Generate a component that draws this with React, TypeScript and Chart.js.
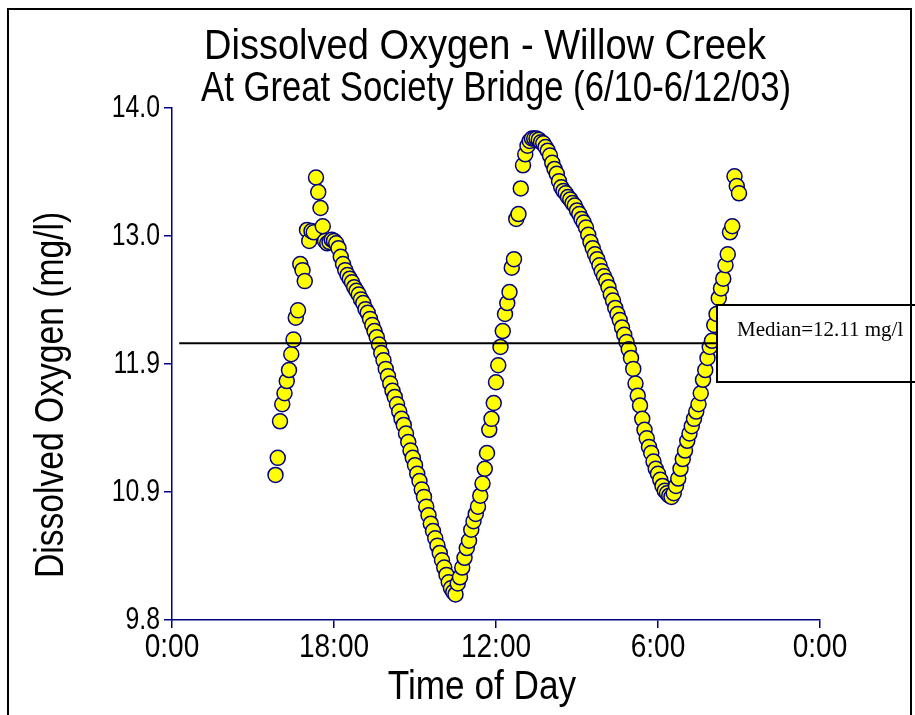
import React, { useEffect, useRef } from "react";
import { Chart, registerables } from "chart.js";

Chart.register(...registerables);

// Hours since 6/10/03 0:00 (logger readings every 15 minutes)
const hoursSinceStart = [
  11.5, 11.75, 12, 12.25, 12.5, 12.75, 13, 13.25, 13.5, 13.75,
  14, 14.25, 14.5, 14.75, 15, 15.25, 15.5, 15.75, 16, 16.25,
  16.5, 16.75, 17, 17.25, 17.5, 17.75, 18, 18.25, 18.5, 18.75,
  19, 19.25, 19.5, 19.75, 20, 20.25, 20.5, 20.75, 21, 21.25,
  21.5, 21.75, 22, 22.25, 22.5, 22.75, 23, 23.25, 23.5, 23.75,
  24, 24.25, 24.5, 24.75, 25, 25.25, 25.5, 25.75, 26, 26.25,
  26.5, 26.75, 27, 27.25, 27.5, 27.75, 28, 28.25, 28.5, 28.75,
  29, 29.25, 29.5, 29.75, 30, 30.25, 30.5, 30.75, 31, 31.25,
  31.5, 31.75, 32, 32.25, 32.5, 32.75, 33, 33.25, 33.5, 33.75,
  34, 34.25, 34.5, 34.75, 35, 35.25, 35.5, 35.75, 36, 36.25,
  36.5, 36.75, 37, 37.25, 37.5, 37.75, 38, 38.25, 38.5, 38.75,
  39, 39.25, 39.5, 39.75, 40, 40.25, 40.5, 40.75, 41, 41.25,
  41.5, 41.75, 42, 42.25, 42.5, 42.75, 43, 43.25, 43.5, 43.75,
  44, 44.25, 44.5, 44.75, 45, 45.25, 45.5, 45.75, 46, 46.25,
  46.5, 46.75, 47, 47.25, 47.5, 47.75, 48, 48.25, 48.5, 48.75,
  49, 49.25, 49.5, 49.75, 50, 50.25, 50.5, 50.75, 51, 51.25,
  51.5, 51.75, 52, 52.25, 52.5, 52.75, 53, 53.25, 53.5, 53.75,
  54, 54.25, 54.5, 54.75, 55, 55.25, 55.5, 55.75, 56, 56.25,
  56.5, 56.75, 57, 57.25, 57.5, 57.75, 58, 58.25, 58.5, 58.75,
  59, 59.25, 59.5, 59.75, 60, 60.25, 60.5, 60.75, 61, 61.25,
  61.5, 61.75, 62, 62.25, 62.5, 62.75, 63,
];

// Dissolved oxygen, mg/l
const dissolvedOxygen = [
  10.99, 11.13, 11.43, 11.57, 11.66, 11.76, 11.85, 11.98, 12.1, 12.28,
  12.34, 12.72, 12.67, 12.58, 13.0, 12.91, 12.99, 12.98, 13.43, 13.31,
  13.18, 13.03, 12.91, 12.89, 12.9, 12.92, 12.91, 12.89, 12.85, 12.78,
  12.72, 12.67, 12.63, 12.6, 12.57, 12.53, 12.5, 12.47, 12.43, 12.4,
  12.35, 12.32, 12.27, 12.22, 12.17, 12.12, 12.06, 11.99, 11.93, 11.86,
  11.8, 11.74, 11.68, 11.63, 11.57, 11.51, 11.45, 11.4, 11.33, 11.26,
  11.19, 11.13, 11.07, 11.0, 10.94, 10.87, 10.81, 10.73, 10.66, 10.59,
  10.53, 10.47, 10.41, 10.35, 10.29, 10.23, 10.17, 10.11, 10.06, 10.03,
  10.01, 10.1, 10.15, 10.23, 10.31, 10.39, 10.45, 10.54, 10.61, 10.67,
  10.73, 10.82, 10.92, 11.04, 11.17, 11.36, 11.45, 11.58, 11.75, 11.89,
  12.04, 12.17, 12.31, 12.4, 12.49, 12.69, 12.76, 13.09, 13.13, 13.34,
  13.53, 13.62, 13.69, 13.73, 13.75, 13.75, 13.75, 13.74, 13.72, 13.71,
  13.68, 13.65, 13.61, 13.55, 13.5, 13.46, 13.4, 13.35, 13.32, 13.3,
  13.27, 13.25, 13.22, 13.2, 13.16, 13.13, 13.09, 13.06, 13.02, 12.96,
  12.9, 12.85, 12.8, 12.76, 12.71, 12.66, 12.62, 12.58, 12.53, 12.47,
  12.42, 12.36, 12.31, 12.26, 12.2, 12.14, 12.08, 12.02, 11.95, 11.86,
  11.74, 11.64, 11.56, 11.45, 11.36, 11.29, 11.22, 11.17, 11.1, 11.04,
  11.0, 10.95, 10.9, 10.86, 10.84, 10.82, 10.81, 10.84, 10.9, 10.96,
  11.04, 11.12, 11.19, 11.27, 11.33, 11.39, 11.45, 11.51, 11.57, 11.66,
  11.77, 11.85, 11.95, 12.04, 12.09, 12.22, 12.31, 12.44, 12.52, 12.6,
  12.71, 12.8, 12.98, 13.03, 13.44, 13.36, 13.3,
];

const xTickHours = [0, 18, 36, 54, 72];
const xTickLabels = ["0:00", "18:00", "12:00", "6:00", "0:00"];
const yTickValues = [9.8, 10.85, 11.9, 12.95, 14.0];
const yTickLabels = ["9.8", "10.9", "11.9", "13.0", "14.0"];

const medianLineHours = [0.8, 72];
const medianLineLevel = [12.07, 12.07];
const medianLabel = "Median=12.11 mg/l";

const titleLines = [
  "Dissolved Oxygen - Willow Creek",
  "At Great Society Bridge (6/10-6/12/03)",
];
const xAxisTitle = "Time of Day";
const yAxisTitle = "Dissolved Oxygen (mg/l)";

const SANS = "'Liberation Sans', Arial, sans-serif";
const SERIF = "'Liberation Serif', 'Times New Roman', serif";
const NAVY = "#000080";

// horizontal condensing per font size (the original uses a narrow sans face)
const Y_TICK_SIZE = 31;
const X_TICK_SIZE = 33;
const condenseBySize: Record<number, number> = {
  [Y_TICK_SIZE]: 0.8,
  [X_TICK_SIZE]: 0.85,
};

function drawCondensed(
  ctx: CanvasRenderingContext2D,
  text: string,
  x: number,
  y: number,
  sx: number,
  rotate = 0
) {
  ctx.save();
  ctx.translate(x, y);
  if (rotate) ctx.rotate(rotate);
  ctx.scale(sx, 1);
  ctx.fillText(text, 0, 0);
  ctx.restore();
}

const decorPlugin = {
  id: "decor",
  beforeDraw(chart: any) {
    const ctx = chart.ctx as any;
    const proto = Object.getPrototypeOf(ctx);
    const orig = proto.fillText;
    ctx.fillText = function (t: string, x: number, y: number, mw?: number) {
      const m = /(\d+(?:\.\d+)?)px/.exec(this.font);
      const s = m ? condenseBySize[Math.round(+m[1])] : undefined;
      if (!s) return mw === undefined ? orig.call(this, t, x, y) : orig.call(this, t, x, y, mw);
      this.save();
      this.translate(x, y);
      this.scale(s, 1);
      orig.call(this, t, 0, 0);
      this.restore();
    };
  },
  afterDatasetsDraw(chart: any) {
    const ctx = chart.ctx as CanvasRenderingContext2D;
    ctx.save();
    // median annotation box
    ctx.fillStyle = "#ffffff";
    ctx.fillRect(717, 305, 230, 77);
    ctx.strokeStyle = "#000000";
    ctx.lineWidth = 2;
    ctx.strokeRect(717, 305, 230, 77);
    ctx.fillStyle = "#000000";
    ctx.font = `21px ${SERIF}`;
    ctx.textAlign = "left";
    ctx.textBaseline = "alphabetic";
    ctx.fillText(medianLabel, 737, 336);
    ctx.restore();
  },
  afterDraw(chart: any) {
    const ctx = chart.ctx as any;
    delete ctx.fillText;
    ctx.save();
    ctx.fillStyle = "#000000";
    // chart title (left aligned block, narrow face)
    ctx.font = `42px ${SANS}`;
    ctx.textAlign = "left";
    ctx.textBaseline = "alphabetic";
    const w1 = ctx.measureText(titleLines[0]).width;
    const w2 = ctx.measureText(titleLines[1]).width;
    drawCondensed(ctx, titleLines[0], 204, 59, 562 / w1);
    drawCondensed(ctx, titleLines[1], 201, 101, 590 / w2);
    // x axis title
    ctx.font = `40px ${SANS}`;
    ctx.textAlign = "center";
    ctx.textBaseline = "middle";
    drawCondensed(ctx, xAxisTitle, 482, 688, 0.88);
    // y axis title
    ctx.font = `41px ${SANS}`;
    drawCondensed(ctx, yAxisTitle, 52, 395, 0.82, -Math.PI / 2);
    // outer frame
    ctx.strokeStyle = "#000000";
    ctx.lineWidth = 2;
    ctx.strokeRect(8, 9, 903, 760);
    ctx.restore();
  },
};

export default function App() {
  const canvasRef = useRef<HTMLCanvasElement | null>(null);

  useEffect(() => {
    const canvas = canvasRef.current;
    if (!canvas) return;
    const points = hoursSinceStart.map((h, i) => ({ x: h, y: dissolvedOxygen[i] }));
    const median = medianLineHours.map((h, i) => ({ x: h, y: medianLineLevel[i] }));

    const chart = new Chart(canvas, {
      type: "scatter",
      data: {
        datasets: [
          {
            type: "line",
            label: "Median",
            data: median,
            borderColor: "#000000",
            borderWidth: 2,
            pointRadius: 0,
            fill: false,
          } as any,
          {
            type: "scatter",
            label: "Dissolved Oxygen",
            data: points,
            pointRadius: 7.5,
            pointHoverRadius: 7.5,
            backgroundColor: "#FFFF00",
            borderColor: NAVY,
            borderWidth: 1.5,
          },
        ],
      },
      options: {
        responsive: false,
        animation: false,
        devicePixelRatio: 1,
        layout: { padding: { left: 0, right: 95, top: 108, bottom: 0 } },
        plugins: {
          legend: { display: false },
          tooltip: { enabled: false },
          title: { display: false },
        },
        events: [],
        scales: {
          x: {
            type: "linear",
            position: "bottom",
            min: 0,
            max: 72,
            afterBuildTicks: (scale: any) => {
              scale.ticks = xTickHours.map((v) => ({ value: v }));
            },
            afterFit: (scale: any) => {
              scale.height = 95;
            },
            ticks: {
              callback: (_v: any, i: number) => xTickLabels[i],
              color: "#000000",
              font: { family: SANS, size: X_TICK_SIZE },
              padding: 0,
              maxRotation: 0,
              autoSkip: false,
            },
            grid: {
              drawOnChartArea: false,
              drawTicks: true,
              tickLength: 8,
              color: NAVY,
              lineWidth: 1.5,
            },
            border: { display: true, color: NAVY, width: 1.5 },
            title: { display: false, text: xAxisTitle },
          },
          y: {
            type: "linear",
            position: "left",
            min: 9.8,
            max: 14.0,
            afterBuildTicks: (scale: any) => {
              scale.ticks = yTickValues.map((v) => ({ value: v }));
            },
            afterFit: (scale: any) => {
              scale.width = 172;
            },
            ticks: {
              callback: (_v: any, i: number) => yTickLabels[i],
              color: "#000000",
              font: { family: SANS, size: Y_TICK_SIZE },
              padding: 4,
              autoSkip: false,
            },
            grid: {
              drawOnChartArea: false,
              drawTicks: true,
              tickLength: 8,
              color: NAVY,
              lineWidth: 1.5,
            },
            border: { display: true, color: NAVY, width: 1.5 },
            title: { display: false, text: yAxisTitle },
          },
        },
      },
      plugins: [decorPlugin],
    });

    return () => chart.destroy();
  }, []);

  return (
    <div
      style={{
        position: "fixed",
        left: 0,
        top: 0,
        width: 915,
        height: 715,
        background: "#ffffff",
        overflow: "hidden",
      }}
    >
      <canvas ref={canvasRef} width={915} height={715} style={{ width: 915, height: 715, display: "block" }} />
    </div>
  );
}
